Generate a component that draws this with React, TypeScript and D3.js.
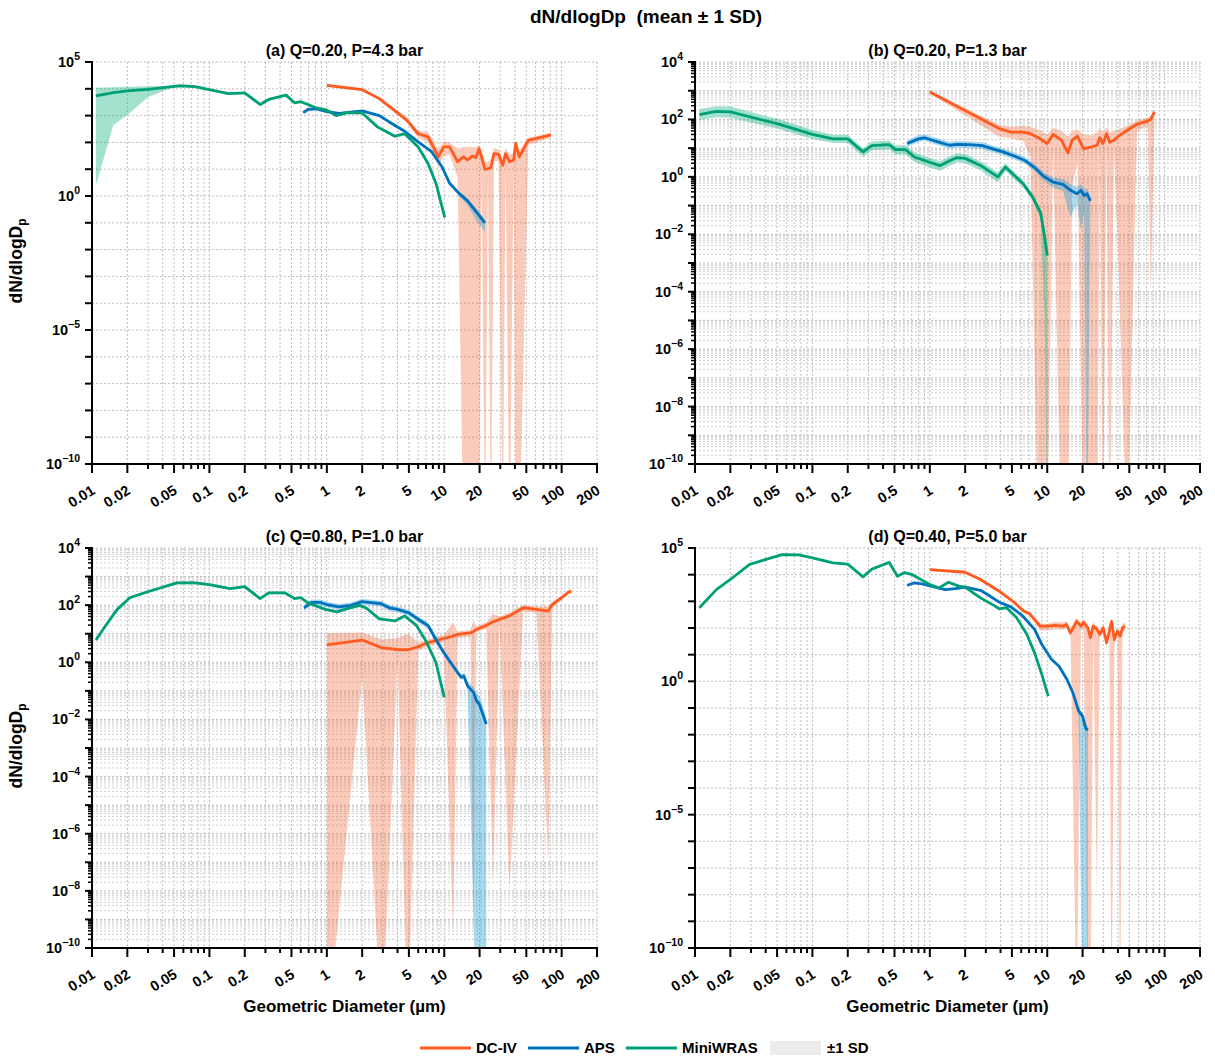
import * as d3 from 'd3';

// [diameter µm, mean dN/dlogDp, mean - 1 SD, mean + 1 SD]
type Row = [number, number, number, number];

// (a) Q=0.20, P=4.3 bar
const aDcIv: Row[] = [
  [1.0, 1.35e4, 1.2e4, 1.5e4],
  [2.0, 9.3e3, 8.3e3, 1.05e4],
  [2.8, 4.3e3, 3.8e3, 4.8e3],
  [4.8, 680, 550, 850],
  [6.0, 210, 150, 270],
  [7.3, 160, 100, 240],
  [8.9, 29, 12, 55],
  [9.9, 68, 30, 110],
  [11.1, 68, 35, 100],
  [13.0, 19, 5, 60],
  [14.6, 29, 0, 68],
  [15.8, 22, 0, 68],
  [17.3, 31, 0, 68],
  [18.6, 27, 0, 68],
  [19.8, 58, 0, 80],
  [20.8, 29, 12, 45],
  [22.2, 9.8, 0, 20],
  [23.6, 10.5, 6, 18],
  [25, 11.5, 0, 25],
  [26.5, 38, 20, 60],
  [29, 36, 20, 55],
  [31.5, 14, 0, 25],
  [33.3, 38, 15, 60],
  [36, 19, 0, 35],
  [39, 22, 12, 40],
  [40.6, 91, 0, 120],
  [43.6, 29, 0, 50],
  [52, 120, 80, 150],
  [81, 190, 150, 230],
];
const aAps: Row[] = [
  [0.63, 1300, 1150, 1450],
  [0.69, 1700, 1500, 1900],
  [0.8, 1800, 1600, 2000],
  [1.0, 1400, 1250, 1550],
  [1.27, 1200, 1070, 1330],
  [2.0, 1500, 1330, 1670],
  [2.8, 1000, 890, 1120],
  [3.4, 580, 510, 650],
  [4.6, 260, 230, 290],
  [6.0, 105, 92, 118],
  [7.8, 45, 39, 51],
  [9.6, 12, 10.4, 13.6],
  [11.1, 3.0, 2.5, 3.5],
  [13.5, 1.2, 0.95, 1.45],
  [15.8, 0.66, 0.45, 0.8],
  [19.3, 0.22, 0.1, 0.3],
  [22.2, 0.1, 0.045, 0.13],
];
const aMiniWras: Row[] = [
  [0.0108, 5400, 2.5, 1.1e4],
  [0.0152, 7200, 450, 1.15e4],
  [0.02, 8300, 1050, 1.2e4],
  [0.03, 9500, 4900, 1.25e4],
  [0.048, 1.2e4, 1.1e4, 1.3e4],
  [0.056, 1.3e4, 1.2e4, 1.4e4],
  [0.075, 1.2e4, 1.1e4, 1.35e4],
  [0.1, 9300, 8500, 1.0e4],
  [0.145, 6600, 6000, 7200],
  [0.2, 7100, 6400, 7800],
  [0.27, 2600, 2300, 2900],
  [0.32, 4000, 3600, 4400],
  [0.45, 5800, 5200, 6400],
  [0.53, 3000, 2700, 3300],
  [0.6, 3300, 3000, 3600],
  [0.8, 2000, 1800, 2200],
  [1.0, 1600, 1400, 1800],
  [1.2, 1000, 900, 1100],
  [1.5, 1300, 1150, 1450],
  [2.0, 1260, 1100, 1400],
  [2.7, 380, 330, 430],
  [3.8, 170, 150, 190],
  [4.6, 210, 180, 240],
  [6.0, 68, 58, 78],
  [7.3, 16, 13, 19],
  [8.5, 3.0, 2.4, 3.6],
  [10.1, 0.16, 0.12, 0.2],
];

// (b) Q=0.20, P=1.3 bar
const bDcIv: Row[] = [
  [1.0, 910, 800, 1000],
  [3.9, 48, 25, 65],
  [4.9, 36, 22, 55],
  [6.2, 36, 18, 60],
  [7.2, 32, 5, 55],
  [8.4, 23, 0, 45],
  [10.0, 14.5, 0, 30],
  [11.2, 30, 12, 50],
  [13.2, 19, 0, 40],
  [15.0, 6.8, 0, 25],
  [16.3, 19, 0.5, 40],
  [18.1, 26, 3, 45],
  [20.4, 9.5, 0, 30],
  [23.9, 11, 0, 28],
  [26.6, 12.6, 0, 35],
  [28, 23, 8, 50],
  [29.8, 14.5, 0, 35],
  [32, 32, 15, 55],
  [34, 16, 0, 35],
  [37, 19, 8, 40],
  [40, 25, 3e-3, 45],
  [48, 42, 0, 60],
  [58, 68, 40, 90],
  [72, 89, 60, 120],
  [76, 100, 1e-4, 130],
  [82, 182, 130, 230],
];
const bAps: Row[] = [
  [0.64, 14.5, 11, 19],
  [0.8, 21, 16, 28],
  [0.9, 23, 18, 30],
  [1.17, 16.6, 12.6, 22],
  [1.47, 12.6, 9.6, 16.6],
  [1.7, 13.5, 10.3, 17.8],
  [2.15, 13.2, 10, 17.4],
  [2.8, 12.3, 9.3, 16.2],
  [3.6, 8.9, 6.8, 11.7],
  [4.2, 7.4, 5.6, 9.8],
  [5.3, 5.2, 4.0, 6.9],
  [6.4, 3.8, 2.9, 5.0],
  [7.8, 2.1, 1.6, 2.8],
  [9.3, 1.05, 0.75, 1.45],
  [11.2, 0.66, 0.42, 0.95],
  [13.6, 0.55, 0.33, 0.85],
  [15.8, 0.34, 0.04, 0.55],
  [17.9, 0.26, 0.12, 0.45],
  [19.4, 0.34, 0.014, 0.55],
  [20.6, 0.22, 0.06, 0.38],
  [21.8, 0.26, 0, 0.4],
  [23.3, 0.145, 0.09, 0.2],
];
const bMiniWras: Row[] = [
  [0.0109, 148, 95, 230],
  [0.0152, 190, 120, 290],
  [0.02, 182, 115, 280],
  [0.05, 71, 48, 105],
  [0.1, 30, 21, 43],
  [0.15, 21, 15, 29],
  [0.2, 21, 15, 29],
  [0.27, 7.4, 5.0, 10],
  [0.32, 12.3, 8.5, 17],
  [0.45, 13.2, 9, 18],
  [0.51, 8.9, 6, 12.5],
  [0.62, 8.9, 6, 12.5],
  [0.74, 4.9, 3.3, 7],
  [1.0, 3.2, 2.1, 4.5],
  [1.22, 2.45, 1.6, 3.5],
  [1.4, 3.3, 2.2, 4.7],
  [1.7, 4.7, 3.2, 6.6],
  [2.0, 4.4, 3.0, 6.2],
  [2.7, 2.5, 1.7, 3.5],
  [3.8, 1.0, 0.65, 1.45],
  [4.4, 2.2, 1.6, 3.0],
  [6.2, 0.59, 0.45, 0.75],
  [7.5, 0.2, 0.15, 0.26],
  [8.8, 0.055, 0.035, 0.075],
  [9.5, 0.0083, 1e-5, 0.012],
  [10.0, 0.0018, 0, 0.0025],
];

// (c) Q=0.80, P=1.0 bar
const cDcIv: Row[] = [
  [1.0, 4.1, 0, 10.7],
  [2.0, 6.0, 0.32, 11],
  [2.95, 3.2, 0, 6.3],
  [4.0, 2.8, 1.5, 7],
  [4.9, 2.7, 0, 10],
  [6.0, 3.5, 2.5, 5],
  [7.1, 4.7, 3.5, 6],
  [9.9, 6.8, 5, 9],
  [11.9, 8.3, 3e-10, 25],
  [13, 9.5, 7, 12],
  [16.7, 10.7, 8, 14],
  [17.8, 12, 2e-10, 30],
  [18.7, 14, 11, 18],
  [22.8, 19.5, 15, 25],
  [26, 26, 1.6e-8, 50],
  [29.6, 32, 25, 40],
  [36, 42, 1e-8, 55],
  [47, 81, 60, 100],
  [61, 71, 55, 90],
  [77, 62, 1e-7, 90],
  [83, 105, 80, 130],
  [100, 182, 150, 220],
  [114, 282, 240, 330],
  [121, 309, 260, 350],
];
const cAps: Row[] = [
  [0.64, 81, 65, 100],
  [0.74, 126, 100, 158],
  [0.87, 126, 100, 158],
  [1.0, 105, 84, 132],
  [1.27, 87, 69, 109],
  [1.6, 98, 78, 123],
  [2.0, 132, 105, 166],
  [2.5, 120, 95, 151],
  [2.9, 112, 89, 141],
  [3.4, 81, 64, 102],
  [4.0, 71, 56, 89],
  [5.0, 54, 43, 68],
  [6.0, 32, 25, 40],
  [7.3, 19, 15, 24],
  [8.5, 6.3, 5.0, 7.9],
  [9.9, 2.2, 1.75, 2.8],
  [11.6, 0.85, 0.68, 1.07],
  [13.0, 0.44, 0.35, 0.55],
  [13.9, 0.3, 0.24, 0.38],
  [14.7, 0.33, 0.26, 0.42],
  [15.8, 0.15, 0.1, 0.2],
  [17.8, 0.087, 1e-9, 0.14],
  [18.8, 0.045, 0, 0.08],
  [19.9, 0.034, 0, 0.07],
  [22.8, 0.0069, 0, 0.012],
];
const cMiniWras: Row[] = [
  [0.0108, 6.0, 5.4, 6.7],
  [0.013, 18.6, 16.7, 20.8],
  [0.0164, 71, 64, 80],
  [0.021, 182, 164, 204],
  [0.029, 282, 254, 316],
  [0.038, 398, 358, 446],
  [0.053, 603, 543, 675],
  [0.075, 603, 543, 675],
  [0.1, 525, 472, 588],
  [0.15, 380, 342, 426],
  [0.2, 447, 402, 500],
  [0.27, 170, 153, 190],
  [0.32, 269, 242, 301],
  [0.44, 269, 242, 301],
  [0.53, 170, 153, 190],
  [0.6, 182, 164, 204],
  [0.69, 120, 108, 134],
  [0.97, 71, 64, 80],
  [1.22, 58, 52, 65],
  [1.47, 74, 67, 83],
  [1.9, 98, 88, 110],
  [2.15, 81, 73, 91],
  [2.8, 33, 30, 37],
  [3.8, 28, 25, 31],
  [4.6, 42, 38, 47],
  [5.8, 19.5, 17.5, 21.8],
  [7.0, 5.5, 5.0, 6.2],
  [8.5, 0.98, 0.88, 1.1],
  [10.0, 0.059, 0.053, 0.066],
];

// (d) Q=0.40, P=5.0 bar
const dDcIv: Row[] = [
  [1.0, 1.55e4, 1.4e4, 1.7e4],
  [2.0, 1.23e4, 1.1e4, 1.35e4],
  [2.7, 6600, 5900, 7300],
  [3.9, 2400, 2150, 2650],
  [5.1, 1000, 880, 1120],
  [6.3, 430, 370, 490],
  [7.1, 340, 290, 390],
  [8.7, 117, 80, 150],
  [10.0, 117, 80, 140],
  [11.6, 126, 90, 170],
  [13.6, 117, 85, 160],
  [14.6, 135, 95, 185],
  [15.8, 66, 45, 95],
  [17.8, 178, 0, 240],
  [19.4, 117, 85, 160],
  [20.4, 160, 110, 220],
  [22.2, 100, 0, 140],
  [23.3, 43, 0, 60],
  [24.6, 117, 80, 160],
  [26.5, 89, 1e-8, 125],
  [28, 58, 40, 80],
  [30, 100, 70, 140],
  [32, 28, 20, 40],
  [33.8, 76, 53, 105],
  [35.3, 178, 0, 240],
  [37.3, 37, 26, 52],
  [39.6, 76, 53, 105],
  [41.8, 50, 0, 70],
  [43.7, 100, 70, 140],
  [46.1, 117, 80, 160],
];
const dAps: Row[] = [
  [0.64, 4000, 3600, 4400],
  [0.74, 4900, 4400, 5400],
  [0.86, 4500, 4050, 4950],
  [1.17, 3200, 2900, 3500],
  [1.36, 2750, 2500, 3000],
  [1.65, 3000, 2700, 3300],
  [2.0, 3400, 3050, 3750],
  [2.7, 2600, 2350, 2850],
  [3.1, 1800, 1600, 2000],
  [3.9, 930, 840, 1020],
  [4.9, 620, 560, 680],
  [6.1, 300, 270, 330],
  [7.8, 89, 80, 98],
  [9.0, 24, 21.5, 26.5],
  [10.9, 6.6, 5.9, 7.3],
  [12.6, 3.7, 3.3, 4.1],
  [14.6, 1.26, 1.1, 1.4],
  [16.5, 0.38, 0.33, 0.43],
  [18.5, 0.078, 0.05, 0.1],
  [20.0, 0.05, 0, 0.07],
  [21.3, 0.017, 0, 0.025],
  [22.2, 0.015, 0, 0.02],
];
const dMiniWras: Row[] = [
  [0.0109, 575, 520, 630],
  [0.0152, 2750, 2480, 3030],
  [0.02, 6600, 5900, 7300],
  [0.029, 2.4e4, 2.15e4, 2.65e4],
  [0.039, 3.6e4, 3.25e4, 3.95e4],
  [0.055, 5.6e4, 5.0e4, 6.2e4],
  [0.077, 5.5e4, 4.95e4, 6.05e4],
  [0.1, 4.3e4, 3.9e4, 4.7e4],
  [0.15, 2.75e4, 2.5e4, 3.0e4],
  [0.2, 2.5e4, 2.25e4, 2.75e4],
  [0.27, 8300, 7500, 9100],
  [0.32, 1.6e4, 1.45e4, 1.75e4],
  [0.45, 2.9e4, 2.6e4, 3.2e4],
  [0.53, 8700, 7800, 9600],
  [0.61, 1.2e4, 1.08e4, 1.32e4],
  [0.71, 1.0e4, 9000, 1.1e4],
  [1.0, 4300, 3900, 4700],
  [1.2, 3200, 2900, 3500],
  [1.44, 5200, 4700, 5700],
  [1.77, 3700, 3300, 4100],
  [2.0, 3400, 3050, 3750],
  [2.7, 1350, 1200, 1500],
  [3.6, 660, 590, 730],
  [3.9, 520, 470, 570],
  [4.5, 580, 520, 640],
  [5.5, 240, 215, 265],
  [6.7, 58, 52, 64],
  [7.8, 11.7, 10.5, 12.9],
  [9.0, 1.8, 1.6, 2.0],
  [10.2, 0.28, 0.25, 0.31],
];

const xMajorTicks = [0.01, 0.02, 0.05, 0.1, 0.2, 0.5, 1, 2, 5, 10, 20, 50, 100, 200];
const xMajorLabels = ['0.01', '0.02', '0.05', '0.1', '0.2', '0.5', '1', '2', '5', '10', '20', '50', '100', '200'];
const xMinorTicks = [
  0.03, 0.04, 0.06, 0.07, 0.08, 0.09, 0.3, 0.4, 0.6, 0.7, 0.8, 0.9, 3, 4, 6, 7, 8, 9, 30, 40, 60, 70, 80, 90,
];

const instruments = ['DC-IV', 'APS', 'MiniWRAS'];

const colors: Record<string, { line: string; band: string }> = {
  'DC-IV': { line: '#FF5A1F', band: 'rgba(240,106,58,0.35)' },
  APS: { line: '#0072BD', band: 'rgba(40,160,215,0.4)' },
  MiniWRAS: { line: '#00A077', band: 'rgba(20,180,130,0.4)' },
};

interface PanelSpec {
  id: string;
  title: string;
  left: number;
  top: number;
  bottom: number;
  yMaxExp: number;
  denseY: boolean;
  yLabel: boolean;
  xLabel: boolean;
  series: Record<string, Row[]>;
}

const plotW = 505;

const panels: PanelSpec[] = [
  { id: 'a', title: '(a) Q=0.20, P=4.3 bar', left: 92, top: 62, bottom: 464, yMaxExp: 5, denseY: false, yLabel: true, xLabel: false,
    series: { 'DC-IV': aDcIv, APS: aAps, MiniWRAS: aMiniWras } },
  { id: 'b', title: '(b) Q=0.20, P=1.3 bar', left: 695, top: 62, bottom: 464, yMaxExp: 4, denseY: true, yLabel: false, xLabel: false,
    series: { 'DC-IV': bDcIv, APS: bAps, MiniWRAS: bMiniWras } },
  { id: 'c', title: '(c) Q=0.80, P=1.0 bar', left: 92, top: 548, bottom: 948, yMaxExp: 4, denseY: true, yLabel: true, xLabel: true,
    series: { 'DC-IV': cDcIv, APS: cAps, MiniWRAS: cMiniWras } },
  { id: 'd', title: '(d) Q=0.40, P=5.0 bar', left: 695, top: 548, bottom: 948, yMaxExp: 5, denseY: false, yLabel: false, xLabel: true,
    series: { 'DC-IV': dDcIv, APS: dAps, MiniWRAS: dMiniWras } },
];

const font = "'Liberation Sans', Arial, Helvetica, sans-serif";

function expLabel(e: number) {
  return e < 0 ? `\u2212${Math.abs(e)}` : `${e}`;
}

function Panel({ p }: { p: PanelSpec }) {
  const x = d3.scaleLog().domain([0.01, 200]).range([p.left, p.left + plotW]);
  const y = d3.scaleLog().domain([1e-10, 10 ** p.yMaxExp]).range([p.bottom, p.top]);
  const floor = 1e-13;

  const exps = d3.range(-10, p.yMaxExp + 1);
  const minorY = p.denseY ? exps.slice(0, -1).flatMap((e) => d3.range(2, 10).map((k) => k * 10 ** e)) : [];
  const labelExps = exps.filter((e) => (p.denseY ? e % 2 === 0 : e % 5 === 0));

  const line = d3
    .line<Row>()
    .x((r) => x(r[0]))
    .y((r) => y(r[1]));
  const area = d3
    .area<Row>()
    .x((r) => x(r[0]))
    .y0((r) => y(Math.max(r[2], floor)))
    .y1((r) => y(r[3]));

  const right = p.left + plotW;
  const clipId = `clip-${p.id}`;

  return (
    <g>
      <defs>
        <clipPath id={clipId}>
          <rect x={p.left} y={p.top - 2} width={plotW} height={p.bottom - p.top + 2} />
        </clipPath>
      </defs>

      {/* grid */}
      <g stroke="#bdbdbd" strokeWidth={1} strokeDasharray="2 2">
        {[...xMajorTicks.slice(1), ...xMinorTicks].map((t) => (
          <line key={`gx${t}`} x1={x(t)} x2={x(t)} y1={p.top} y2={p.bottom} />
        ))}
        {exps.slice(1).map((e) => (
          <line key={`gy${e}`} x1={p.left} x2={right} y1={y(10 ** e)} y2={y(10 ** e)} />
        ))}
      </g>
      {p.denseY && (
        <g stroke="#d0d0d0" strokeWidth={1} strokeDasharray="2 2">
          {minorY.map((t) => (
            <line key={`gm${t}`} x1={p.left} x2={right} y1={y(t)} y2={y(t)} />
          ))}
        </g>
      )}

      {/* ±1 SD bands and means */}
      <g clipPath={`url(#${clipId})`}>
        {instruments.map((k) => (
          <path key={`band${k}`} d={area(p.series[k]) ?? ''} fill={colors[k].band} stroke="none" />
        ))}
        {instruments.map((k) => (
          <path
            key={`line${k}`}
            d={line(p.series[k]) ?? ''}
            fill="none"
            stroke={colors[k].line}
            strokeWidth={2.8}
            strokeLinejoin="round"
          />
        ))}
      </g>

      {/* axes */}
      <g stroke="#000" strokeWidth={2}>
        <line x1={p.left} x2={right + 1} y1={p.bottom} y2={p.bottom} />
        <line x1={p.left} x2={p.left} y1={p.top - 1} y2={p.bottom + 1} />
        {xMajorTicks.map((t) => (
          <line key={`tx${t}`} x1={x(t)} x2={x(t)} y1={p.bottom} y2={p.bottom + 9} />
        ))}
        {xMinorTicks.map((t) => (
          <line key={`tm${t}`} x1={x(t)} x2={x(t)} y1={p.bottom} y2={p.bottom + 5} />
        ))}
        {exps.map((e) => (
          <line key={`ty${e}`} x1={p.left - 7} x2={p.left} y1={y(10 ** e)} y2={y(10 ** e)} />
        ))}
        {minorY.map((t) => (
          <line key={`tym${t}`} x1={p.left - 4} x2={p.left} y1={y(t)} y2={y(t)} strokeWidth={1.5} />
        ))}
      </g>

      <g fontSize={14.5} fill="#000">
        {xMajorTicks.map((t, i) => (
          <text key={`lx${t}`} transform={`translate(${x(t) + 4},${p.bottom + 29}) rotate(-32)`} textAnchor="end">
            {xMajorLabels[i]}
          </text>
        ))}
        {labelExps.map((e) => (
          <text key={`ly${e}`} x={p.left - 12} y={y(10 ** e) + 5} textAnchor="end">
            10
            <tspan dy={-7} fontSize={10.5}>
              {expLabel(e)}
            </tspan>
          </text>
        ))}
      </g>

      <text x={p.left + plotW / 2} y={p.top - 6} textAnchor="middle" fontSize={16}>
        {p.title}
      </text>

      {p.yLabel && (
        <text transform={`translate(22,${(p.top + p.bottom) / 2 - 2}) rotate(-90)`} textAnchor="middle" fontSize={17.5}>
          dN/dlogD
          <tspan fontSize={12} dy={4}>
            p
          </tspan>
        </text>
      )}
      {p.xLabel && (
        <text x={p.left + plotW / 2} y={p.bottom + 64} textAnchor="middle" fontSize={17}>
          Geometric Diameter (µm)
        </text>
      )}
    </g>
  );
}

function Legend() {
  const yMid = 1048;
  const items = [
    { label: 'DC-IV', x: 420, color: colors['DC-IV'].line },
    { label: 'APS', x: 528, color: colors.APS.line },
    { label: 'MiniWRAS', x: 626, color: colors.MiniWRAS.line },
  ];
  return (
    <g fontSize={15}>
      {items.map((it) => (
        <g key={it.label}>
          <line x1={it.x} x2={it.x + 51} y1={yMid} y2={yMid} stroke={it.color} strokeWidth={3} />
          <text x={it.x + 56} y={yMid + 5}>
            {it.label}
          </text>
        </g>
      ))}
      <rect x={770} y={yMid - 7} width={51} height={14} fill="#ebebeb" />
      <text x={827} y={yMid + 5}>
        ±1 SD
      </text>
    </g>
  );
}

export default function App() {
  const W = 1215;
  const H = 1064;
  return (
    <div style={{ position: 'absolute', left: 0, top: 0 }}>
      <svg width={W} height={H} viewBox={`0 0 ${W} ${H}`} fontFamily={font} fontWeight="bold">
        <rect width={W} height={H} fill="#fff" />
        <text x={646} y={23} textAnchor="middle" fontSize={19} style={{ whiteSpace: 'pre' }}>
          {'dN/dlogDp  (mean ± 1 SD)'}
        </text>
        {panels.map((p) => (
          <Panel key={p.id} p={p} />
        ))}
        <Legend />
      </svg>
    </div>
  );
}
